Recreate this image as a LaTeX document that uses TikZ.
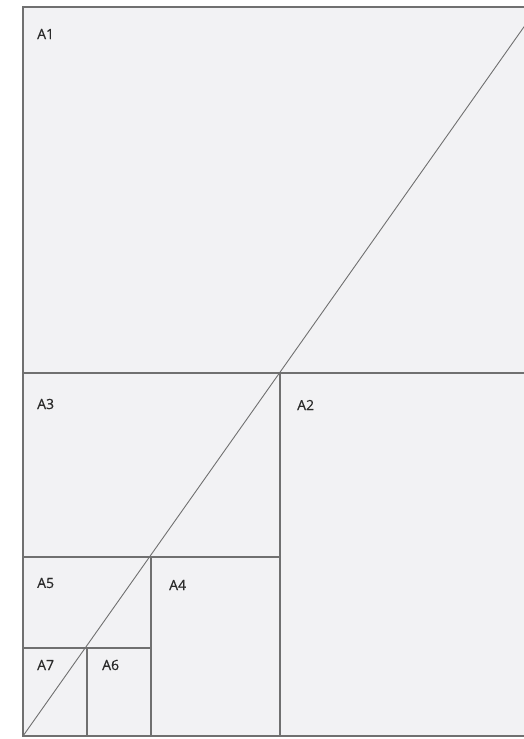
\documentclass[tikz,border=0pt]{standalone}
\usepackage{fontspec}
\setmainfont{Open Sans}
\usepackage{tikz}

\definecolor{sheetfill}{HTML}{F2F2F4}
\definecolor{sheetline}{HTML}{707070}
\definecolor{labeltext}{HTML}{2A2A2A}

\begin{document}
\begin{tikzpicture}[x=1pt, y=-1pt,
  sheet/.style={draw=sheetline, line width=1.1pt, fill=sheetfill},
  cut/.style={draw=sheetline, line width=1.1pt},
  lbl/.style={anchor=west, inner sep=0pt, text=labeltext,
              font=\addfontfeatures{FakeBold=0.6}\fontsize{14}{14}\selectfont}]
  \useasboundingbox (0,0) rectangle (524,739);
  \clip (0,0) rectangle (524,739);
  % corners of the sheet
  \coordinate (tl) at (23,7);
  \coordinate (br) at (538,736);
  \coordinate (bl) at (23,736);
  \coordinate (tr) at (538,7);
  \fill[white] (0,0) rectangle (524,739);
  \draw[sheet] (tl) rectangle (br);
  % cuts
  \coordinate (c1w) at (23,373);   \coordinate (c1e) at (538,373);
  \coordinate (c2n) at (280,373);  \coordinate (c2s) at (280,736);
  \coordinate (c3w) at (23,557);   \coordinate (c3e) at (280,557);
  \coordinate (c4n) at (151,557);  \coordinate (c4s) at (151,736);
  \coordinate (c5w) at (23,648);   \coordinate (c5e) at (151,648);
  \coordinate (c6n) at (87,648);   \coordinate (c6s) at (87,736);
  \draw[cut] (c1w) -- (c1e);
  \draw[cut] (c2n) -- (c2s);
  \draw[cut] (c3w) -- (c3e);
  \draw[cut] (c4n) -- (c4s);
  \draw[cut] (c5w) -- (c5e);
  \draw[cut] (c6n) -- (c6s);
  % diagonal
  \draw[cut, line width=0.9pt] (bl) -- (tr);
  % labels
  \node[lbl] (a1) at (37,34) {A1};
  \node[lbl] (a2) at (297,405) {A2};
  \node[lbl] (a3) at (37,404) {A3};
  \node[lbl] (a4) at (169,585) {A4};
  \node[lbl] (a5) at (37,583) {A5};
  \node[lbl] (a6) at (102,665) {A6};
  \node[lbl] (a7) at (37,665) {A7};
\end{tikzpicture}
\end{document}
